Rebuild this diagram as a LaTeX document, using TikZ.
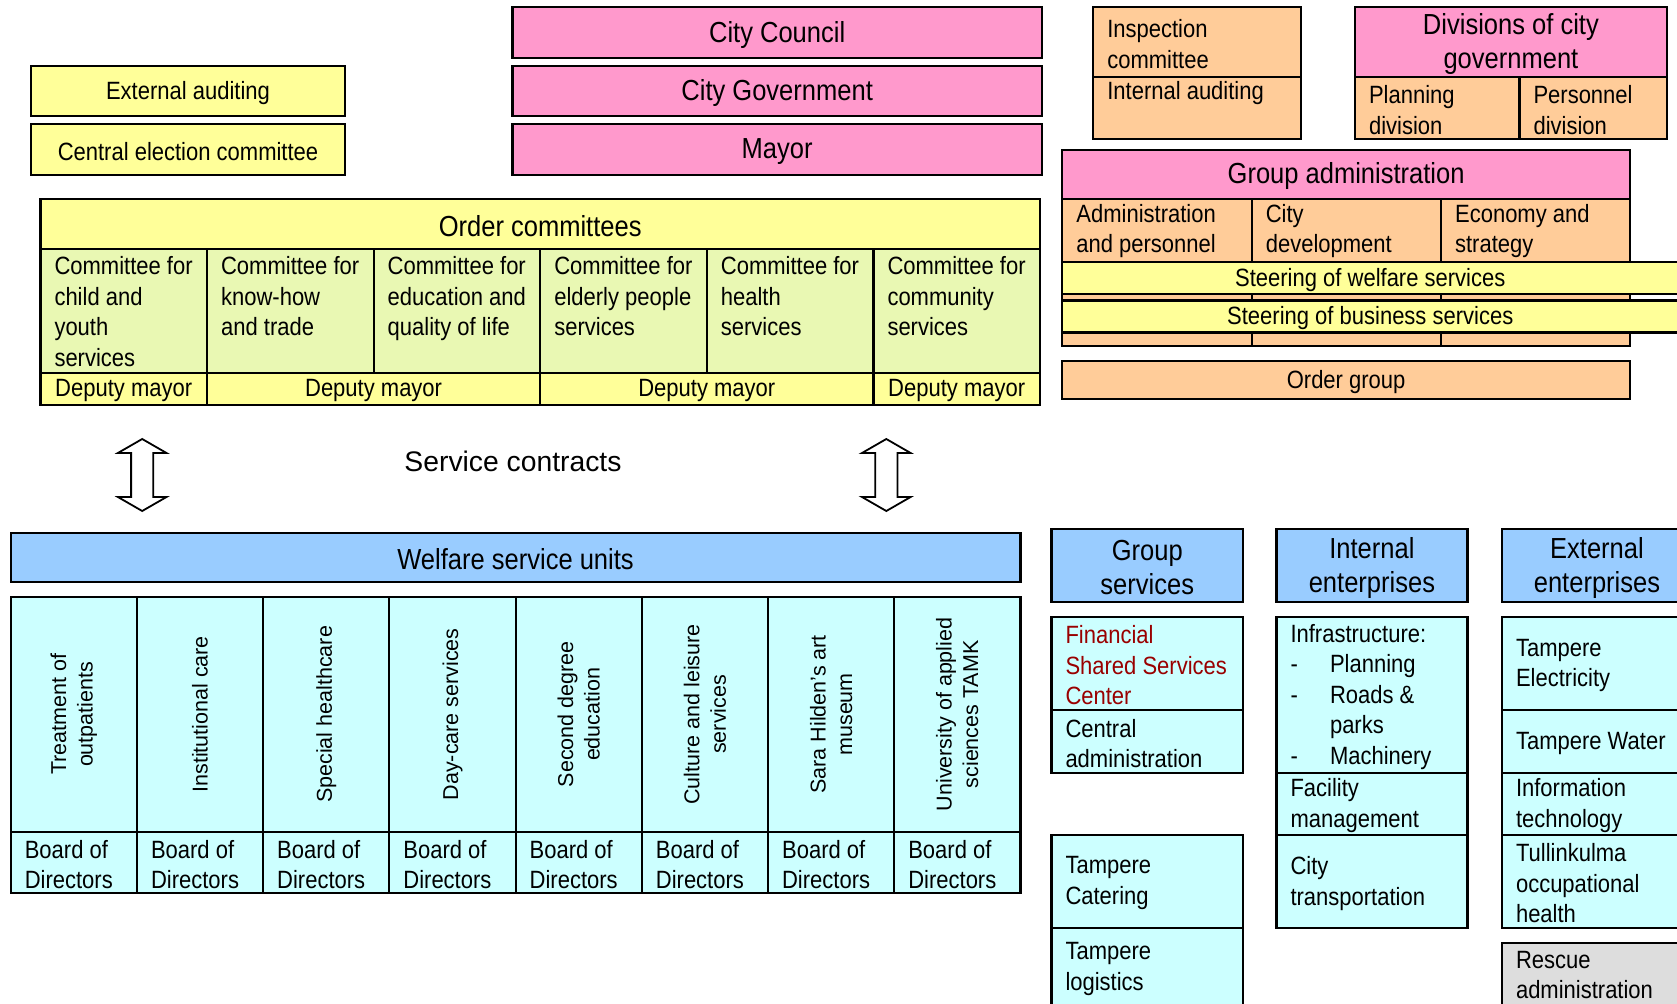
\documentclass[tikz,border=0pt]{standalone}
\usepackage{fontspec}
\setmainfont{Liberation Sans}[FakeStretch=0.88]
\newfontfamily\widefont{Liberation Sans}
\usetikzlibrary{calc}

\definecolor{pinkfill}{HTML}{FF99CC}
\definecolor{yellowfill}{HTML}{FFFF99}
\definecolor{limefill}{HTML}{E9F8B3}
\definecolor{peachfill}{HTML}{FFCC99}
\definecolor{bluefill}{HTML}{99CCFF}
\definecolor{cyanfill}{HTML}{CCFFFF}
\definecolor{greyfill}{HTML}{DDDDDD}
\definecolor{darkredtext}{HTML}{990000}

\newcommand\bigfs{\fontsize{29}{34}\selectfont}
\newcommand\medfs{\fontsize{25}{30.5}\selectfont}
\newcommand\rotfs{\widefont\fontsize{21.5}{26.5}\selectfont}

% \cellframe[box options]{name}{x1}{y1}{x2}{y2}: a framed, filled cell between two corners
\newcommand\cellframe[6][]{%
  \pgfmathsetmacro\ocx{(#3+#5)/2}%
  \pgfmathsetmacro\ocy{(#4+#6)/2}%
  \pgfmathsetmacro\ocw{#5-#3}%
  \pgfmathsetmacro\och{#6-#4}%
  \node[cellbox, minimum width=\ocw pt, minimum height=\och pt, #1] (#2) at (\ocx,\ocy) {};}
% centred text in a cell
\newcommand\ccell[8][]{\cellframe[#1]{#2}{#3}{#4}{#5}{#6}%
  \node[ctrtext, #7] (#2t) at (#2.center) {#8};}
% left-aligned text, vertically centred in a cell
\newcommand\lcell[8][]{\cellframe[#1]{#2}{#3}{#4}{#5}{#6}%
  \node[lfttext, #7] (#2t) at ($(#2.west)+(15,0)$) {#8};}

\tikzset{
  cellbox/.style={draw=black, line width=2.2pt, inner sep=0pt, anchor=center},
  ctrtext/.style={inner sep=0pt, align=center, font=\medfs, yshift=-2pt},
  lfttext/.style={anchor=west, inner sep=0pt, align=left, font=\medfs, yshift=-2pt},
  toptext/.style={anchor=north west, inner sep=0pt, align=left, font=\medfs},
  rottext/.style={rotate=90, inner sep=0pt, align=center, font=\rotfs},
  big/.style={font=\bigfs},
  pnk/.style={fill=pinkfill},
  ylw/.style={fill=yellowfill},
  lime/.style={fill=limefill},
  pch/.style={fill=peachfill},
  blu/.style={fill=bluefill},
  cyn/.style={fill=cyanfill},
  gry/.style={fill=greyfill},
  hollowarrow/.pic={
    \draw[line width=1.8pt, fill=white, line join=miter]
      (0,-36) -- (24.3,-22) -- (11.1,-22) -- (11.1,22) -- (24.3,22) -- (0,36)
      -- (-24.3,22) -- (-11.1,22) -- (-11.1,-22) -- (-24.3,-22) -- cycle;
  }
}

\begin{document}
\begin{tikzpicture}[x=1pt, y=-1pt]
\useasboundingbox (0,0) rectangle (1677,1003);
\clip (0,0) rectangle (1677,1003);

% ---- auditing and election
\ccell[ylw]{extaud}{31}{65.7}{345}{116.3}{}{External auditing}
\ccell[ylw]{elect}{31}{123.7}{345}{175}{}{Central election committee}

% ---- council, government, mayor
\ccell[pnk]{council}{512.5}{7.3}{1041.8}{58.3}{big}{City Council}
\ccell[pnk]{govt}{512.5}{65.7}{1041.8}{116.3}{big}{City Government}
\ccell[pnk]{mayor}{512.5}{123.7}{1041.8}{175}{big}{Mayor}

% ---- order committees
\ccell[ylw]{ordhead}{40.4}{199.3}{1040}{249.3}{big}{Order committees}
\cellframe[lime]{com1}{40.4}{249.3}{207}{372.7}
\cellframe[lime]{com2}{207}{249.3}{373.6}{372.7}
\cellframe[lime]{com3}{373.6}{249.3}{540.2}{372.7}
\cellframe[lime]{com4}{540.2}{249.3}{706.8}{372.7}
\cellframe[lime]{com5}{706.8}{249.3}{873.4}{372.7}
\cellframe[lime]{com6}{873.4}{249.3}{1040}{372.7}
\node[toptext] (com1t) at ($(com1.north west)+(15,8)$) {Committee for\\child and\\youth\\services};
\node[toptext] (com2t) at ($(com2.north west)+(15,8)$) {Committee for\\know-how\\and trade};
\node[toptext] (com3t) at ($(com3.north west)+(15,8)$) {Committee for\\education and\\quality of life};
\node[toptext] (com4t) at ($(com4.north west)+(15,8)$) {Committee for\\elderly people\\services};
\node[toptext] (com5t) at ($(com5.north west)+(15,8)$) {Committee for\\health\\services};
\node[toptext] (com6t) at ($(com6.north west)+(15,8)$) {Committee for\\community\\services};
\ccell[ylw]{dep1}{40.4}{372.7}{207}{405}{}{Deputy mayor}
\ccell[ylw]{dep2}{207}{372.7}{540.2}{405}{}{Deputy mayor}
\ccell[ylw]{dep3}{540.2}{372.7}{873.4}{405}{}{Deputy mayor}
\ccell[ylw]{dep4}{873.4}{372.7}{1040}{405}{}{Deputy mayor}

% ---- inspection and internal auditing
\lcell[pch]{insp}{1093.2}{7.3}{1300.8}{77.3}{}{Inspection\\committee}
\cellframe[pch]{intaud}{1093.2}{77.3}{1300.8}{138.7}
\node[toptext] (intaudt) at ($(intaud.north west)+(15,4.5)$) {Internal auditing};

% ---- divisions of city government
\ccell[pnk]{divhead}{1354.9}{7.3}{1666.9}{77.3}{big}{Divisions of city\\government}
\lcell[pch]{plan}{1354.9}{77.3}{1519.4}{138.7}{}{Planning\\division}
\lcell[pch]{pers}{1519.4}{77.3}{1666.9}{138.7}{}{Personnel\\division}

% ---- group administration
\ccell[pnk]{grphead}{1062.3}{150}{1629.9}{199}{big}{Group administration}
\cellframe[pch]{adm}{1062.3}{199}{1251.7}{345.7}
\cellframe[pch]{dev}{1251.7}{199}{1441}{345.7}
\cellframe[pch]{eco}{1441}{199}{1629.9}{345.7}
\node[toptext] (admt) at ($(adm.north west)+(15,6)$) {Administration\\and personnel};
\node[toptext] (devt) at ($(dev.north west)+(15,6)$) {City\\development};
\node[toptext] (ecot) at ($(eco.north west)+(15,6)$) {Economy and\\strategy};
\ccell[ylw]{steerw}{1062.3}{262}{1678.2}{293.7}{}{Steering of welfare services}
\ccell[ylw]{steerb}{1062.3}{300.5}{1678.2}{332.5}{}{Steering of business services}
\ccell[pch]{ordgrp}{1062.3}{360.7}{1629.9}{398.7}{}{Order group}

% ---- service contracts
\pic (arrowl) at (142.2,475) {hollowarrow};
\pic (arrowr) at (886.3,475) {hollowarrow};
\node[font=\widefont\fontsize{28.3}{34}\selectfont, inner sep=0pt] (contracts) at (513,461.7) {Service contracts};

% ---- welfare service units
\ccell[blu]{welfare}{10.7}{532.7}{1020.4}{582.3}{big}{Welfare service units}
\foreach \i/\xa/\xb/\unitname in {
  1/10.7/136.9/{Treatment of\\outpatients},
  2/136.9/263.1/{Institutional care},
  3/263.1/389.3/{Special healthcare},
  4/389.3/515.6/{Day-care services},
  5/515.6/641.8/{Second degree\\education},
  6/641.8/768/{Culture and leisure\\services},
  7/768/894.2/{Sara Hilden’s art\\museum},
  8/894.2/1020.4/{University of applied\\sciences TAMK}}{
  \cellframe[cyn]{unit\i}{\xa}{597}{\xb}{831.7}
  \node[rottext] (unit\i t) at (unit\i.center) {\unitname};
  \lcell[cyn]{board\i}{\xa}{831.7}{\xb}{893.3}{}{Board of\\Directors}
}

% ---- group services
\ccell[blu]{gshead}{1051.4}{528.7}{1243.1}{602.3}{big}{Group\\services}
\lcell[cyn]{fssc}{1051.4}{616.7}{1243.1}{710}{text=darkredtext}{Financial\\Shared Services\\Center}
\lcell[cyn]{cadm}{1051.4}{710}{1243.1}{773.3}{}{Central\\administration}
\lcell[cyn]{cater}{1051.4}{834.7}{1243.1}{927.7}{}{Tampere\\Catering}
\lcell[cyn]{logis}{1051.4}{927.7}{1243.1}{1012}{yshift=3pt}{Tampere\\logistics}

% ---- internal enterprises
\ccell[blu]{iehead}{1276.4}{528.7}{1467.4}{602.3}{big}{Internal\\enterprises}
\lcell[cyn]{infra}{1276.4}{616.7}{1467.4}{772.7}{}{Infrastructure:\\
  \makebox[39.5pt][l]{-}Planning\\
  \makebox[39.5pt][l]{-}Roads \&\\
  \hspace*{39.5pt}parks\\
  \makebox[39.5pt][l]{-}Machinery}
\lcell[cyn]{facil}{1276.4}{772.7}{1467.4}{834.7}{}{Facility\\management}
\lcell[cyn]{transp}{1276.4}{834.7}{1467.4}{928.3}{}{City\\transportation}

% ---- external enterprises (column runs past the right edge)
\ccell[blu]{eehead}{1501.9}{528.7}{1692}{602.3}{big}{External\\enterprises}
\lcell[cyn]{elec}{1501.9}{616.7}{1692}{710}{}{Tampere\\Electricity}
\lcell[cyn]{water}{1501.9}{710}{1692}{772.7}{}{Tampere Water}
\lcell[cyn]{itech}{1501.9}{772.7}{1692}{834.7}{}{Information\\technology}
\lcell[cyn]{tulli}{1501.9}{834.7}{1692}{928.3}{}{Tullinkulma\\occupational\\health}
\lcell[gry]{rescue}{1501.9}{943.3}{1692}{1010}{yshift=3.5pt}{Rescue\\administration}

\end{tikzpicture}
\end{document}
